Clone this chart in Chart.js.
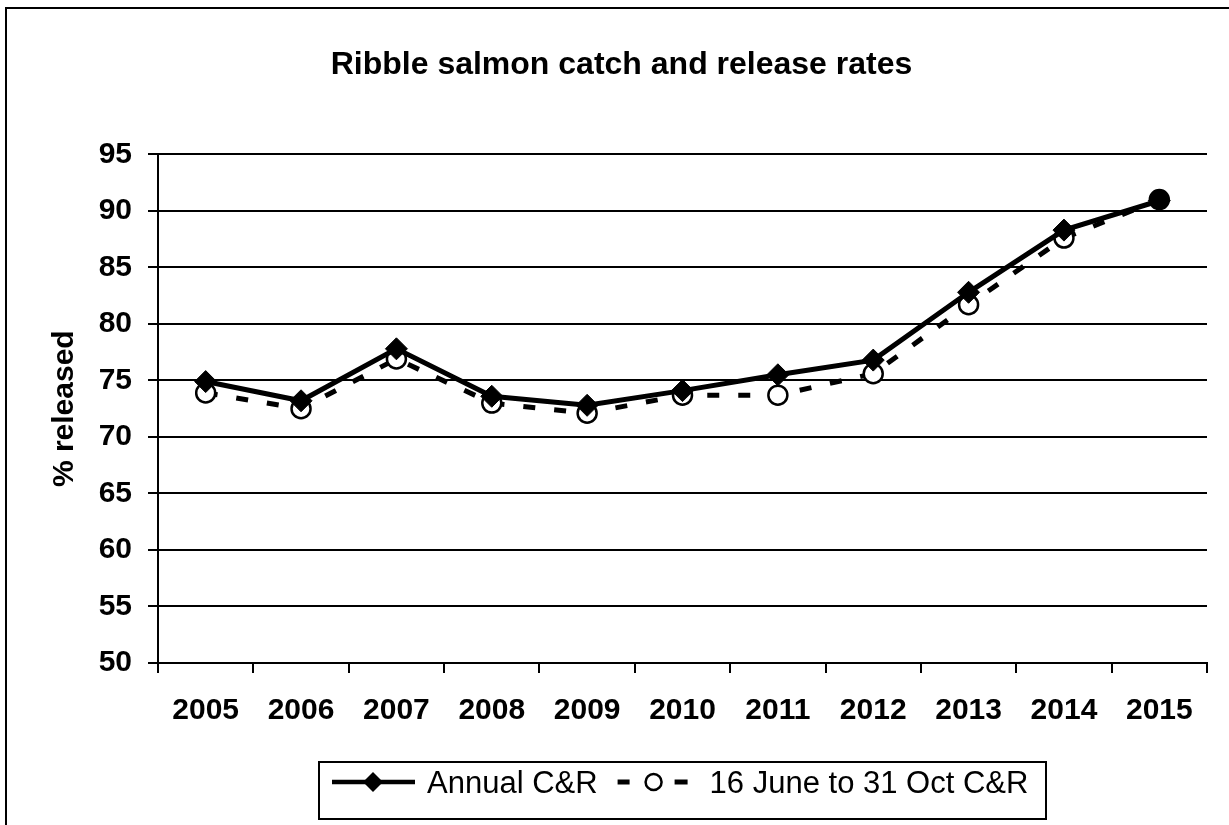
<!DOCTYPE html>
<html>
<head>
<meta charset="utf-8">
<title>Ribble salmon catch and release rates</title>
<script src="https://cdn.jsdelivr.net/npm/chart.js@4.4.1/dist/chart.umd.min.js"></script>
<style>
    html, body { margin: 0; padding: 0; background: #fff; overflow: hidden; }
    #wrap { position: relative; width: 1229px; height: 825px; }
    #frame { position: absolute; left: 5px; top: 7px; width: 1300px; height: 900px; border: 2px solid #000; pointer-events: none; }
</style>
</head>
<body>
<div id="wrap">
    <canvas id="releaseChart" width="1229" height="825"></canvas>
    <div id="frame"></div>
</div>
<script>
const years = ['2005', '2006', '2007', '2008', '2009', '2010', '2011', '2012', '2013', '2014', '2015'];
const annualRelease = [74.9, 73.2, 77.8, 73.6, 72.8, 74.1, 75.5, 76.8, 82.8, 88.3, 90.9];
const summerRelease = [73.9, 72.5, 76.9, 73.0, 72.1, 73.7, 73.7, 75.6, 81.7, 87.6, 91.0];
const yMin = 50;
const yMax = 95;
const yStep = 5;

const FONT = '"Liberation Sans", Arial, sans-serif';

// legend in a plain box, line sample with marker in the middle
const boxedLegend = {
    id: 'boxedLegend',
    afterDraw(chart) {
        const ctx = chart.ctx;
        const [solid, dashed] = chart.data.datasets;
        ctx.save();
        ctx.font = '31px ' + FONT;
        const w1 = ctx.measureText(solid.label).width;
        const w2 = ctx.measureText(dashed.label).width;
        const total = 13 + 83 + 12 + w1 + 20 + 70 + 22 + w2 + 18;
        const cx = (chart.chartArea.left + chart.chartArea.right) / 2;
        let x = Math.round(cx - total / 2);
        const top = 762, bottom = 819, lineY = 782, textY = 793;

        ctx.strokeStyle = '#000';
        ctx.lineWidth = 2;
        ctx.strokeRect(x, top, Math.round(total), bottom - top);

        // solid sample
        x += 13;
        ctx.lineWidth = 4.5;
        ctx.beginPath();
        ctx.moveTo(x, lineY);
        ctx.lineTo(x + 83, lineY);
        ctx.stroke();
        const dx = x + 41;
        ctx.fillStyle = '#000';
        ctx.beginPath();
        ctx.moveTo(dx, lineY - 10);
        ctx.lineTo(dx + 10, lineY);
        ctx.lineTo(dx, lineY + 10);
        ctx.lineTo(dx - 10, lineY);
        ctx.closePath();
        ctx.fill();
        x += 83 + 12;
        ctx.textBaseline = 'alphabetic';
        ctx.fillText(solid.label, x, textY);
        x += w1 + 20;

        // dashed sample
        ctx.lineWidth = 5;
        ctx.beginPath();
        ctx.moveTo(x, lineY);
        ctx.lineTo(x + 12, lineY);
        ctx.moveTo(x + 57, lineY);
        ctx.lineTo(x + 70, lineY);
        ctx.stroke();
        ctx.lineWidth = 2.5;
        ctx.fillStyle = '#fff';
        ctx.beginPath();
        ctx.arc(x + 36, lineY, 8, 0, Math.PI * 2);
        ctx.fill();
        ctx.stroke();
        x += 70 + 22;
        ctx.fillStyle = '#000';
        ctx.fillText(dashed.label, x, textY);
        ctx.restore();
    }
};

function renderReleaseChart() {
    const summerFill = summerRelease.map((v, i) => i === summerRelease.length - 1 ? '#000' : '#fff');

    new Chart(document.getElementById('releaseChart'), {
        type: 'line',
        data: {
            labels: years,
            datasets: [
                {
                    label: 'Annual C&R',
                    data: annualRelease,
                    borderColor: '#000',
                    borderWidth: 5,
                    pointStyle: 'rectRot',
                    pointRadius: 11,
                    pointBackgroundColor: '#000',
                    pointBorderColor: '#000',
                    pointBorderWidth: 1,
                    tension: 0
                },
                {
                    label: '16 June to 31 Oct C&R',
                    data: summerRelease,
                    borderColor: '#000',
                    borderWidth: 5,
                    borderDash: [12, 19],
                    borderCapStyle: 'butt',
                    pointStyle: 'circle',
                    pointRadius: 9.5,
                    pointBackgroundColor: summerFill,
                    pointBorderColor: '#000',
                    pointBorderWidth: 2.5,
                    tension: 0
                }
            ]
        },
        options: {
            responsive: false,
            animation: false,
            layout: { padding: { left: 36, right: 22, top: 0, bottom: 82 } },
            plugins: {
                legend: { display: false },
                tooltip: { enabled: false },
                title: {
                    display: true,
                    text: 'Ribble salmon catch and release rates',
                    color: '#000',
                    font: { family: FONT, size: 32, weight: 'bold', lineHeight: 1.2 },
                    padding: { top: 46, bottom: 70 }
                }
            },
            scales: {
                x: {
                    offset: true,
                    afterFit: s => { s.height = 80; },
                    grid: { offset: true, drawOnChartArea: false, color: '#000', lineWidth: 2, tickLength: 10 },
                    border: { color: '#000', width: 2 },
                    ticks: { color: '#000', padding: 20, font: { family: FONT, size: 30, weight: 'bold', lineHeight: 1.2 } }
                },
                y: {
                    min: yMin,
                    max: yMax,
                    afterFit: s => { s.width = 122; },
                    grid: { color: '#000', lineWidth: 2, tickLength: 10 },
                    border: { color: '#000', width: 2 },
                    ticks: { stepSize: yStep, color: '#000', padding: 16, font: { family: FONT, size: 30, weight: 'bold', lineHeight: 1.2 } },
                    title: {
                        display: true,
                        text: '% released',
                        color: '#000',
                        padding: { top: 11, bottom: 0 },
                        font: { family: FONT, size: 30, weight: 'bold', lineHeight: 1.2 }
                    }
                }
            }
        },
        plugins: [boxedLegend]
    });
}

document.addEventListener('DOMContentLoaded', renderReleaseChart);
</script>
</body>
</html>
